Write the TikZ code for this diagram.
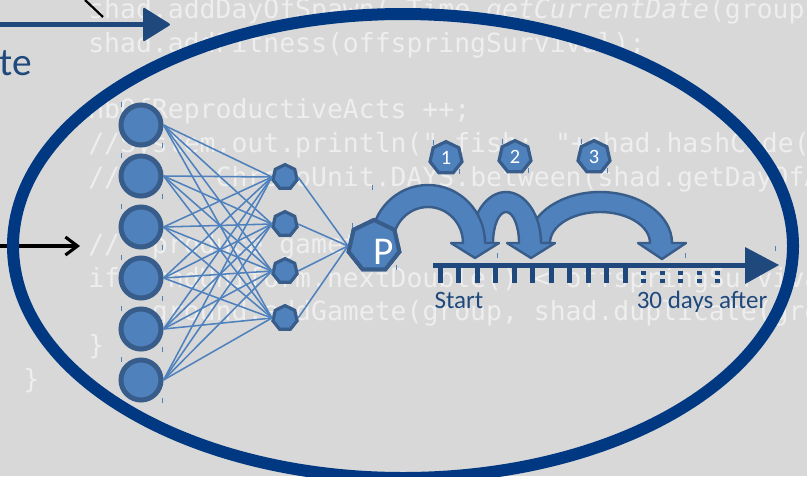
\documentclass[tikz,border=0pt]{standalone}
\usepackage{fontspec}
\setmainfont{Carlito}
\newfontfamily\codefont{DejaVu Sans Mono}
\usetikzlibrary{shapes.geometric,arrows.meta}

\definecolor{slidegray}{RGB}{216,216,216}
\definecolor{codewhite}{RGB}{238,238,238}
\definecolor{ringnavy}{RGB}{0,57,130}
\definecolor{nodeblue}{RGB}{79,129,189}
\definecolor{nodeedge}{RGB}{56,93,138}
\definecolor{darkblue}{RGB}{31,73,125}

\begin{document}
\begin{tikzpicture}[x=0.025cm,y=-0.025cm,
  codeline/.style={anchor=base west,inner sep=0pt,text=codewhite,font=\codefont\fontsize{18.8}{21}\selectfont},
  neuron/.style={circle,draw=nodeedge,fill=nodeblue,line width=0.125cm,minimum size=1.0cm,inner sep=0pt},
  hidden/.style={regular polygon,regular polygon sides=7,draw=nodeedge,fill=nodeblue,line width=0.08cm,minimum size=0.62cm,inner sep=0pt},
  badge/.style={hidden,minimum size=0.82cm,text=white,font=\fontsize{14.5}{15}\selectfont},
  synapse/.style={draw=nodeblue,line width=1.1pt},
  jump/.style={fill=nodeblue,draw=nodeedge,line width=0.06cm,line join=round},
  daytick/.style={fill=darkblue},
  timelabel/.style={text=darkblue,inner sep=0pt,font=\fontsize{17.8}{20}\selectfont},
  selmark/.style={draw=nodeblue,line width=0.5pt}
]
  %layout
  \useasboundingbox (0,0) rectangle (807,476);
  \clip (0,0) rectangle (807,476);
  \fill[slidegray] (0,0) rectangle (807,476);

  %code in the background
  \node[codeline] (code1) at (88,18) {shad.addDayOfSpawn( Time.\textit{getCurrentDate}(group.};
  \node[codeline] (code2) at (88,52) {shad.addFitness(offspringSurvival);};
  \node[codeline] (code3) at (88,118) {nbOfReproductiveActs ++;};
  \node[codeline] (code4) at (88,152) {//System.out.println(" fish: "+shad.hashCode()};
  \node[codeline] (code5) at (88,186) {//\ \ \ \ \ \ ChronoUnit.DAYS.between(shad.getDayOfA};
  \node[codeline] (code6) at (88,253) {//\ \ produce gametes};
  \node[codeline] (code7) at (88,287) {if (rndUniform.nextDouble() < offspringSurvival)};
  \node[codeline] (code8) at (88,320) {\ \ \ \ ground.addGamete(group, shad.duplicate(gro};
  \node[codeline] (code9) at (88,354) {\}};
  \node[codeline] (code10) at (23,388) {\}};

  %pieces of the slide around
  \node[anchor=base west,inner sep=0pt,text=darkblue,font=\fontsize{28}{30}\selectfont] (te) at (-1,75) {te};
  \coordinate (toparrowstart) at (0,24.5);
  \coordinate (toparrowend) at (145,24.5);
  \draw[darkblue,line width=0.125cm] (toparrowstart) -- (toparrowend);
  \fill[darkblue,rounded corners=1.5pt] (143,7) -- (171,24.5) -- (143,42) -- cycle;
  \draw[black,line width=1.6pt] (85,0) -- (103,17);
  \coordinate (inletstart) at (0,246);
  \coordinate (inletend) at (80,246);
  \draw[black,line width=2.2pt,-{Straight Barb[length=0.3cm,width=0.45cm]}] (inletstart) -- (inletend);

  %ring
  \draw[ringnavy,line width=0.3cm] (403,246) ellipse [x radius=390,y radius=232];

  %input layer
  \foreach \i/\y in {1/125,2/176,3/227,4/278,5/329,6/380}
    \node[neuron] (in\i) at (141,\y) {};

  %hidden layer
  \foreach \j/\y in {1/177,2/224,3/271,4/318}
    \node[hidden] (hid\j) at (285,\y) {};

  %output
  \node[hidden,minimum size=1.3cm,line width=0.1cm] (P) at (374,246) {};

  %weights
  \foreach \i in {1,...,6}
    \foreach \j in {1,...,4}
      \draw[synapse] (in\i.east) -- (hid\j.west);
  \foreach \j in {1,...,4}
    \draw[synapse] (hid\j.east) -- (P.west);

  %jumps
  %third
  \filldraw[jump] (528,243) arc[start angle=180,end angle=360,x radius=72,y radius=51]
    -- (686,243) -- (662,259) -- (638,243) -- (650,243)
    arc[start angle=360,end angle=180,x radius=50,y radius=31] -- cycle;
  %second
  \filldraw[jump] (471,243) arc[start angle=180,end angle=360,x radius=35,y radius=51]
    -- (555,243) -- (531,258) -- (507,243) -- (519,243)
    arc[start angle=360,end angle=180,x radius=13,y radius=31] -- cycle;
  %first
  \filldraw[jump] (371,243) arc[start angle=180,end angle=360,x radius=57,y radius=58]
    -- (499,243) -- (475,258) -- (451,243) -- (463,243)
    arc[start angle=360,end angle=180,x radius=35,y radius=36] -- cycle;

  %P node on top of the first jump
  \node[hidden,minimum size=1.3cm,line width=0.1cm] (Pcover) at (374,246) {};
  \node[text=white,inner sep=0pt,font=\fontsize{28}{30}\selectfont] (Ptext) at (384,252) {P};

  %jump numbers
  \node[badge] (one) at (446,158) {1};
  \node[badge] (two) at (515,157) {2};
  \node[badge] (three) at (594,157) {3};

  %timeline
  \draw[darkblue,line width=0.125cm] (433,265) -- (752,265);
  \fill[darkblue] (745,247) -- (779,265) -- (745,284) -- cycle;
  \foreach \k in {0,...,10}
    \fill[daytick] ({437.5+18.5*\k},265) rectangle ++(5,18);
  \foreach \k in {11,...,15} {
    \fill[daytick] ({437.5+18.5*\k},271) rectangle ++(5,4);
    \fill[daytick] ({437.5+18.5*\k},279) rectangle ++(5,4);
  }

  %labels
  \node[timelabel] (start) at (459,300) {Start};
  \node[timelabel] (after) at (702,302) {30 days after};

  %selection marks
  \foreach \y in {125,176,227,278,329,380} {
    \draw[selmark] (121,\y-23) -- (121,\y-18);
    \draw[selmark] (162,\y+18) -- (162,\y+23);
  }
  \foreach \x/\y in {446/158,515/157,594/157} {
    \draw[selmark] (\x-13,\y-18) -- (\x-13,\y-13);
    \draw[selmark] (\x+13,\y+11) -- (\x+13,\y+16);
  }
  \draw[selmark] (352,223) -- (352,228);
  \draw[selmark] (396,265) -- (396,270);
  \draw[selmark] (372,185) -- (372,190);
  \draw[selmark] (497,253) -- (497,258);
  \draw[selmark] (685,253) -- (685,258);
  \draw[selmark] (775,246) -- (775,251);
\end{tikzpicture}
\end{document}
